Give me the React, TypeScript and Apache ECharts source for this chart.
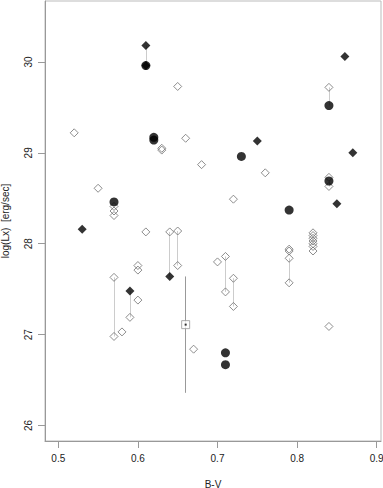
import React, { useEffect, useRef } from "react";
import * as echarts from "echarts";

const xTicks = [0.5, 0.6, 0.7, 0.8, 0.9];
const yTicks = [26, 27, 28, 29, 30];

const filledDiamonds: number[][] = [
  [0.61, 30.18], [0.61, 29.96], [0.86, 30.06], [0.75, 29.13], [0.87, 29.0],
  [0.85, 28.44], [0.53, 28.16], [0.59, 27.48], [0.64, 27.64],
];

const filledCircles: number[][] = [
  [0.61, 29.96], [0.62, 29.17], [0.62, 29.14], [0.73, 28.96], [0.84, 29.52],
  [0.84, 28.69], [0.79, 28.37], [0.57, 28.46], [0.71, 26.8], [0.71, 26.67],
];

const openDiamonds: number[][] = [
  [0.52, 29.22], [0.65, 29.73], [0.66, 29.16], [0.63, 29.05], [0.63, 29.03],
  [0.68, 28.87], [0.76, 28.78], [0.72, 28.49], [0.84, 29.72], [0.84, 28.73],
  [0.84, 28.63], [0.55, 28.61], [0.57, 28.41], [0.57, 28.36], [0.57, 28.31],
  [0.61, 28.13], [0.64, 28.13], [0.65, 28.14], [0.65, 27.76], [0.6, 27.76],
  [0.6, 27.71], [0.57, 27.63], [0.57, 26.98], [0.59, 27.19], [0.6, 27.38],
  [0.58, 27.03], [0.7, 27.8], [0.71, 27.86], [0.71, 27.47], [0.72, 27.62],
  [0.72, 27.31], [0.67, 26.84], [0.79, 27.94], [0.79, 27.92], [0.79, 27.84],
  [0.79, 27.57], [0.82, 28.12], [0.82, 28.09], [0.82, 28.06], [0.82, 28.03],
  [0.82, 28.0], [0.82, 27.97], [0.82, 27.92], [0.84, 27.09],
];

// [x, yTop, yBottom]
const connectors: number[][] = [
  [0.61, 30.18, 29.96], [0.84, 29.72, 29.52], [0.84, 28.69, 28.63],
  [0.57, 27.63, 26.98], [0.59, 27.48, 27.19], [0.64, 28.13, 27.64],
  [0.65, 28.14, 27.76], [0.71, 27.86, 27.47], [0.72, 27.62, 27.31],
  [0.79, 27.84, 27.57],
];

const squarePoint: number[] = [0.66, 27.11];
const squareErr: number[] = [27.64, 26.36];

export default function App() {
  const ref = useRef<HTMLDivElement>(null);
  useEffect(() => {
    const chart = echarts.init(ref.current!, null, { renderer: "svg" });
    const font = "Liberation Sans";
    chart.setOption({
      animation: false,
      grid: {
        left: 45, right: 2, top: 1, bottom: 47,
        containLabel: false, outerBoundsMode: "none",
        show: true, borderColor: "#bbbbbb", borderWidth: 1,
      },
      xAxis: {
        type: "value", min: 0.4833, max: 0.9054,
        name: "B-V", nameLocation: "middle", nameGap: 38,
        nameTextStyle: { fontFamily: font, fontSize: 10, color: "#222" },
        axisLine: { show: true, lineStyle: { color: "#999" } },
        axisTick: { show: true, length: 7, customValues: xTicks, lineStyle: { color: "#999" } },
        axisLabel: {
          customValues: xTicks, margin: 12, fontFamily: font, fontSize: 10, color: "#222",
          formatter: (v: number) => v.toFixed(1),
        },
        splitLine: { show: false },
      },
      yAxis: {
        type: "value", min: 25.83, max: 30.67,
        name: "log(Lx)  [erg/sec]", nameLocation: "middle", nameGap: 35,
        nameTextStyle: { fontFamily: font, fontSize: 10, color: "#222" },
        axisLine: { show: true, lineStyle: { color: "#999" } },
        axisTick: { show: true, length: 7, customValues: yTicks, lineStyle: { color: "#999" } },
        axisLabel: {
          customValues: yTicks, margin: 12, rotate: 90, fontFamily: font, fontSize: 10, color: "#222",
          formatter: (v: number) => String(Math.round(v)),
        },
        splitLine: { show: false },
      },
      series: [
        {
          type: "lines", coordinateSystem: "cartesian2d", z: 1, silent: true,
          lineStyle: { color: "#cccccc", width: 1, opacity: 1 },
          data: connectors.map((c) => ({ coords: [[c[0], c[1]], [c[0], c[2]]] })),
        },
        {
          type: "lines", coordinateSystem: "cartesian2d", z: 1, silent: true,
          lineStyle: { color: "#999999", width: 1, opacity: 1 },
          data: [{ coords: [[squarePoint[0], squareErr[0]], [squarePoint[0], squareErr[1]]] }],
        },
        {
          type: "scatter", z: 2, symbol: "diamond", symbolSize: 8,
          itemStyle: { color: "rgba(0,0,0,0)", borderColor: "#707070", borderWidth: 1 },
          data: openDiamonds,
        },
        {
          type: "scatter", z: 3, symbol: "circle", symbolSize: 9,
          itemStyle: { color: "#000" },
          data: filledCircles,
        },
        {
          type: "scatter", z: 4, symbol: "diamond", symbolSize: 9,
          itemStyle: { color: "#000" },
          data: filledDiamonds,
        },
        {
          type: "scatter", z: 4, symbol: "rect", symbolSize: 8,
          itemStyle: { color: "#fff", borderColor: "#999", borderWidth: 1 },
          data: [squarePoint],
        },
        {
          type: "scatter", z: 5, symbol: "rect", symbolSize: 2,
          itemStyle: { color: "#000" },
          data: [squarePoint],
        },
      ],
    });
    return () => chart.dispose();
  }, []);
  return (
    <div
      ref={ref}
      style={{ position: "fixed", left: 0, top: 0, width: 383, height: 488, background: "#fff" }}
    />
  );
}
